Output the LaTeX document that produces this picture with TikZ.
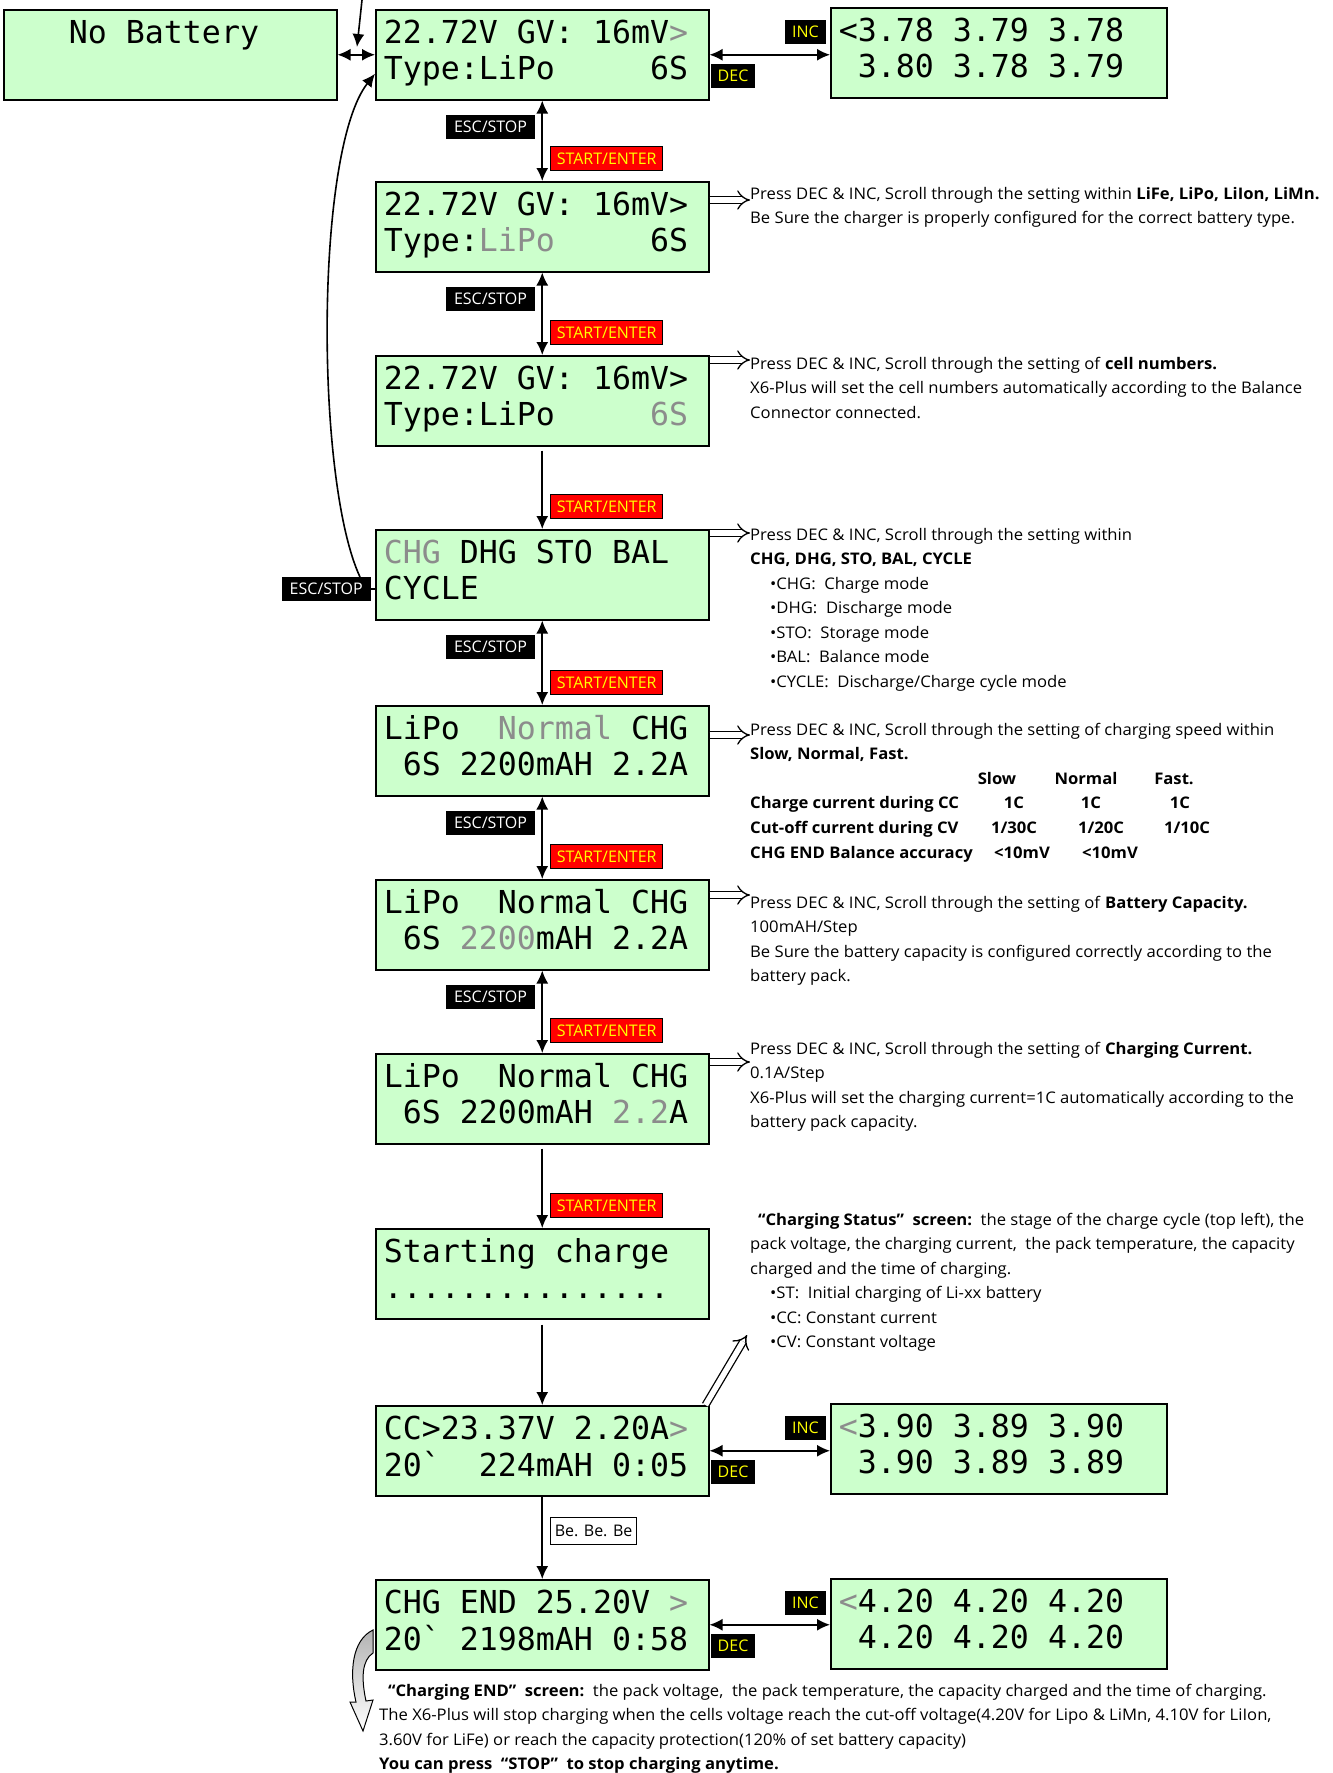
\documentclass[tikz,border=0pt]{standalone}
\usepackage{fontspec}
\setmainfont{Open Sans}
\newfontfamily\notefont{Open Sans}[FakeStretch=1.04]
\newfontfamily\lcdfont{DejaVu Sans Mono}
\usetikzlibrary{arrows.meta,positioning}
\definecolor{lcdgreen}{HTML}{CCFFCC}
\definecolor{lcdgray}{HTML}{8C8C8C}
\definecolor{keyyellow}{HTML}{FFFF00}
\newcommand{\faded}[1]{\textcolor{lcdgray}{#1}}
\newcommand{\csp}{\hphantom{0}}
\newcommand{\lcdrows}[2]{\strut #1\\\strut #2}

\begin{document}
\begin{tikzpicture}[x=1pt,y=-1pt,
        lcdbox/.style={draw=black, line width=1.5pt, fill=lcdgreen, anchor=north west,
            text width=317pt, inner xsep=8pt, inner ysep=0pt, minimum height=90pt, align=left,
            font=\lcdfont\fontsize{31.6}{36}\selectfont},
        escbox/.style={fill=black, text=white, inner xsep=8pt, inner ysep=0pt, minimum height=24pt,
            font=\fontsize{16}{16}\selectfont},
        startbox/.style={draw=black, line width=1pt, fill=red, text=keyyellow, inner xsep=6pt,
            inner ysep=0pt, minimum height=24pt, font=\fontsize{16}{16}\selectfont},
        keybox/.style={fill=black, text=keyyellow, inner xsep=7pt, inner ysep=0pt, minimum height=24pt,
            font=\fontsize{16}{16}\selectfont},
        bebox/.style={draw=black, line width=1pt, fill=white, inner xsep=4pt, inner ysep=0pt,
            minimum height=27pt, font=\fontsize{16}{16}\selectfont},
        note/.style={anchor=north west, align=left, inner sep=0pt, execute at begin node=\strut,
            font=\notefont\fontsize{16}{24.5}\selectfont},
        cell/.style={anchor=base, inner sep=0pt, font=\notefont\bfseries\fontsize{16}{24.5}\selectfont},
        flow/.style={line width=1.6pt, -{Latex[length=13pt,width=12pt]}},
        both/.style={line width=1.6pt, {Latex[length=13pt,width=12pt]}-{Latex[length=13pt,width=12pt]}},
        hollow/.style={draw=black, double=white, double distance=5.5pt, line width=1.3pt, -{Implies}}]
        \useasboundingbox (0,0) rectangle (1333,1773);

        % screens
        \node[lcdbox] (nb) at (3,9) {\lcdrows{\csp\csp\csp No\csp Battery}{}};
        \node[lcdbox] (b1) at (375,9) {\lcdrows{22.72V\csp GV:\csp 16mV\faded{>}}{Type:LiPo\csp\csp\csp\csp\csp 6S}};
        \node[lcdbox] (b2) at (375,181) {\lcdrows{22.72V\csp GV:\csp 16mV>}{Type:\faded{LiPo}\csp\csp\csp\csp\csp 6S}};
        \node[lcdbox] (b3) at (375,355) {\lcdrows{22.72V\csp GV:\csp 16mV>}{Type:LiPo\csp\csp\csp\csp\csp\faded{6S}}};
        \node[lcdbox] (b4) at (375,529) {\lcdrows{\faded{CHG}\csp DHG\csp STO\csp BAL}{CYCLE}};
        \node[lcdbox] (b5) at (375,705) {\lcdrows{LiPo\csp\csp\faded{Normal}\csp CHG}{\csp 6S\csp 2200mAH\csp 2.2A}};
        \node[lcdbox] (b6) at (375,879) {\lcdrows{LiPo\csp\csp Normal\csp CHG}{\csp 6S\csp\faded{2200}mAH\csp 2.2A}};
        \node[lcdbox] (b7) at (375,1053) {\lcdrows{LiPo\csp\csp Normal\csp CHG}{\csp 6S\csp 2200mAH\csp\faded{2.2}A}};
        \node[lcdbox] (b8) at (375,1228) {\lcdrows{Starting\csp charge}{...............}};
        \node[lcdbox] (b9) at (375,1405) {\lcdrows{CC>23.37V\csp 2.20A\faded{>}}{20\textasciigrave\csp\csp 224mAH\csp 0:05}};
        \node[lcdbox] (b10) at (375,1579) {\lcdrows{CHG\csp END\csp 25.20V\csp\faded{>}}{20\textasciigrave\csp 2198mAH\csp 0:58}};
        \node[lcdbox, text width=320pt] (r1) at (830,7) {\lcdrows{<3.78\csp 3.79\csp 3.78}{\csp 3.80\csp 3.78\csp 3.79}};
        \node[lcdbox, text width=320pt] (r2) at (830,1403) {\lcdrows{\faded{<}3.90\csp 3.89\csp 3.90}{\csp 3.90\csp 3.89\csp 3.89}};
        \node[lcdbox, text width=320pt] (r3) at (830,1578) {\lcdrows{\faded{<}4.20\csp 4.20\csp 4.20}{\csp 4.20\csp 4.20\csp 4.20}};

        % key steps
        \foreach \a/\b/\n in {b1/b2/1, b2/b3/2, b4/b5/4, b5/b6/5, b6/b7/6}{
            \draw[both] (\a.south) -- (\b.north);
            \node[escbox, anchor=north east] (esc\n) at ([xshift=-7pt,yshift=-14pt]\a.south) {ESC/STOP};
            \node[startbox, anchor=south west] (go\n) at ([xshift=8pt,yshift=10pt]\b.north) {START/ENTER};
        }
        \foreach \a/\b/\n in {b3/b4/3, b7/b8/7}{
            \draw[flow, shorten <=4pt] (\a.south) -- (\b.north);
            \node[startbox, anchor=south west] (go\n) at ([xshift=8pt,yshift=10pt]\b.north) {START/ENTER};
        }
        \draw[flow, shorten <=5pt] (b8.south) -- (b9.north);
        \draw[flow] (b9.south) -- (b10.north);
        \node[bebox, anchor=north west] (beep) at ([xshift=8pt,yshift=-20pt]b9.south) {Be. Be. Be};

        % battery in / out
        \coordinate (feed) at (362,0);
        \coordinate (split) at (357,47);
        \draw[flow] (feed) -- (split);
        \draw[both] (nb.east) -- (b1.west);
        \node[escbox, anchor=east] (escL) at ([xshift=-4pt,yshift=-14.5pt]b4.west) {ESC/STOP};
        \draw[line width=1.6pt] (escL.east) -- (escL.east -| b4.west);
        \draw[flow] ([xshift=-11pt]escL.north east) .. controls (315,480) and (315,150) .. ([yshift=-19pt]b1.west);

        % cell voltages
        \foreach \a/\b/\n in {b1/r1/1, b9/r2/2, b10/r3/3}{
            \draw[both] (\a.east) -- (\a.east -| \b.west);
            \node[keybox, anchor=south east] (inc\n) at ([xshift=-4pt,yshift=9pt]\b.west) {INC};
            \node[keybox, anchor=north west] (dec\n) at ([xshift=1pt,yshift=-9pt]\a.east) {DEC};
        }

        % notes
        \node[note] (t2) at (750,187) {Press DEC \& INC, Scroll through the setting within \textbf{LiFe, LiPo, LiIon, LiMn.}\\
            Be Sure the charger is properly configured for the correct battery type.};
        \node[note] (t3) at (750,357) {Press DEC \& INC, Scroll through the setting of \textbf{cell numbers.}\\
            X6-Plus will set the cell numbers automatically according to the Balance\\Connector connected.};
        \node[note] (t4) at (750,528) {Press DEC \& INC, Scroll through the setting within\\
            \textbf{CHG, DHG, STO, BAL, CYCLE}\\
            \hspace*{20pt}•CHG:\ \ Charge mode\\
            \hspace*{20pt}•DHG:\ \ Discharge mode\\
            \hspace*{20pt}•STO:\ \ Storage mode\\
            \hspace*{20pt}•BAL:\ \ Balance mode\\
            \hspace*{20pt}•CYCLE:\ \ Discharge/Charge cycle mode};
        \node[note] (t5) at (750,723) {Press DEC \& INC, Scroll through the setting of charging speed within\\
            \textbf{Slow, Normal, Fast.}};
        \foreach \x/\y/\t [count=\i] in {997/784.4/Slow, 1086/784.4/Normal, 1174/784.4/Fast.,
                1014/808.4/1C, 1091/808.4/1C, 1180/808.4/1C,
                1014/833.4/1\slash 30C, 1101/833.4/1\slash 20C, 1187/833.4/1\slash 10C,
                1022/858.4/<10mV, 1110/858.4/<10mV}
            \node[cell] (v\i) at (\x,\y) {\t};
        \foreach \y/\t [count=\i] in {808.4/Charge current during CC, 833.4/Cut-off current during CV,
                858.4/CHG END Balance accuracy}
            \node[cell, anchor=base west] (row\i) at (750,\y) {\t};
        \node[note] (t6) at (750,896) {Press DEC \& INC, Scroll through the setting of \textbf{Battery Capacity.}\\
            100mAH/Step\\
            Be Sure the battery capacity is configured correctly according to the\\battery pack.};
        \node[note] (t7) at (750,1042) {Press DEC \& INC, Scroll through the setting of \textbf{Charging Current.}\\
            0.1A/Step\\
            X6-Plus will set the charging current=1C automatically according to the\\battery pack capacity.};
        \node[note] (t8) at (750,1213) {\hspace*{8pt}\textbf{“Charging Status”\ \ screen:}\ \ the stage of the charge cycle (top left), the\\
            pack voltage, the charging current,\ \ the pack temperature, the capacity\\
            charged and the time of charging.\\
            \hspace*{20pt}•ST:\ \ Initial charging of Li-xx battery\\
            \hspace*{20pt}•CC: Constant current\\
            \hspace*{20pt}•CV: Constant voltage};
        \node[note] (tend) at (379,1684) {\hspace*{9pt}\textbf{“Charging END”\ \ screen:}\ \ the pack voltage,\ \ the pack temperature, the capacity charged and the time of charging.\\
            The X6-Plus will stop charging when the cells voltage reach the cut-off voltage(4.20V for Lipo \& LiMn, 4.10V for LiIon,\\
            3.60V for LiFe) or reach the capacity protection(120\% of set battery capacity)\\
            \textbf{You can press\ \ “STOP”\ \ to stop charging anytime.}};

        % pointers to the notes
        \foreach \b/\t/\d in {b2/t2/19, b3/t3/5, b4/t4/4, b5/t5/30, b6/t6/16, b7/t7/9}{
            \coordinate (h\b) at ([yshift=-\d pt]\b.north east);
            \draw[hollow] (h\b) -- (h\b -| \t.west);
        }
        \coordinate (status) at (747,1335);
        \draw[hollow] ([xshift=-4pt]b9.north east) -- (status);
        %\draw[hollow] (b10.west) to[bend right] (tend.north west);
        \shade[top color=gray!60, bottom color=white, draw=black, line width=1pt]
            (373,1630) .. controls (352,1640) and (349,1672) .. (356,1702) -- (350,1702) -- (363,1731)
            -- (373,1700) -- (366,1701) .. controls (361,1678) and (362,1660) .. (373,1653) -- cycle;
\end{tikzpicture}
\end{document}
